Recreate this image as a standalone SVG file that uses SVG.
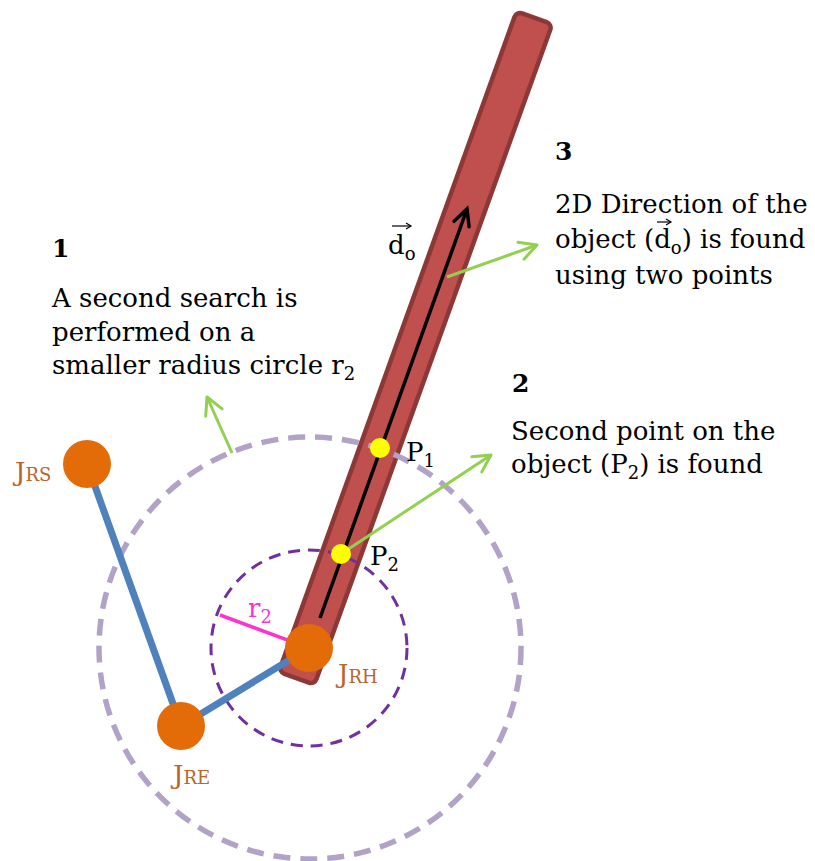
<svg xmlns="http://www.w3.org/2000/svg" width="815" height="861" viewBox="0 0 815 861">
  <style>
    .txt { font-family: "DejaVu Serif", "Liberation Serif", serif; font-size: 26px; fill: #000; }
    .num { font-family: "DejaVu Serif", "Liberation Serif", serif; font-size: 25px; font-weight: bold; fill: #000; }
    .jl { font-family: "DejaVu Serif", "Liberation Serif", serif; font-size: 26px; fill: #b9652b; }
    .jsub { font-size: 18px; }
    .sub { font-size: 18px; }
    .green { stroke: #92d050; stroke-width: 3; fill: none; marker-end: url(#ga); }
    .blue { stroke: #4f81bd; stroke-width: 7; }
    .joint { fill: #e36c09; }
    .pt { fill: #ffff00; }
  </style>
  <defs>
    <marker id="ga" markerUnits="userSpaceOnUse" viewBox="-20 -12 24 24" refX="0" refY="0" markerWidth="24" markerHeight="24" orient="auto">
      <path d="M-17,-9 L0,0 L-17,9" fill="none" stroke="#92d050" stroke-width="3" stroke-linejoin="round" stroke-linecap="round"/>
    </marker>
    <marker id="ba" markerUnits="userSpaceOnUse" viewBox="-20 -12 24 24" refX="0" refY="0" markerWidth="24" markerHeight="24" orient="auto">
      <path d="M-16,-8 L0,0 L-16,8" fill="none" stroke="#000" stroke-width="3.5" stroke-linejoin="miter" stroke-linecap="round"/>
    </marker>
    <marker id="sa" markerUnits="userSpaceOnUse" viewBox="-8 -5 10 10" refX="0" refY="0" markerWidth="10" markerHeight="10" orient="auto">
      <path d="M-5,-3 L0,0 L-5,3" fill="none" stroke="#000" stroke-width="1.2"/>
    </marker>
  </defs>

  <g id="rod">
    <rect x="396.5" y="-3" width="38" height="702" rx="6" ry="6" fill="#c0504d" stroke="#8c3836" stroke-width="4.5" transform="rotate(19.8 415.5 348)"/>
  </g>

  <g id="search-circles">
    <circle id="circle-large" cx="310" cy="648" r="211" fill="none" stroke="#b3a2c7" stroke-width="5.5" stroke-dasharray="17 10"/>
    <circle id="circle-small" cx="309" cy="648" r="98" fill="none" stroke="#7030a0" stroke-width="3" stroke-dasharray="12 8"/>
  </g>

  <g id="connectors">
    <line id="radius-r2" x1="220" y1="615" x2="309" y2="648" stroke="#ff33cc" stroke-width="3.5"/>
    <line id="arm-upper" class="blue" x1="87" y1="464" x2="181" y2="726"/>
    <line id="arm-lower" class="blue" x1="181" y1="726" x2="309" y2="648"/>
    <line id="direction-arrow" x1="320" y1="618" x2="467" y2="209" stroke="#000" stroke-width="3.5" marker-end="url(#ba)"/>
    <line id="callout-1" class="green" x1="232" y1="453" x2="207" y2="397"/>
    <line id="callout-2" class="green" x1="341" y1="554" x2="491" y2="455"/>
    <line id="callout-3" class="green" x1="447" y1="277" x2="537" y2="245"/>
  </g>

  <g id="P1">
    <ellipse class="pt" cx="380" cy="448" rx="10" ry="10"/>
    <text class="txt" x="406" y="461">P<tspan class="sub" dy="6">1</tspan></text>
  </g>
  <g id="P2">
    <ellipse class="pt" cx="341" cy="554" rx="10" ry="10"/>
    <text class="txt" x="370" y="565">P<tspan class="sub" dy="6">2</tspan></text>
  </g>

  <g id="J_RS">
    <circle class="joint" cx="87" cy="464" r="24"/>
    <text class="jl" x="15" y="481">J<tspan class="jsub">RS</tspan></text>
  </g>
  <g id="J_RE">
    <circle class="joint" cx="181" cy="726" r="24"/>
    <text class="jl" x="173" y="784">J<tspan class="jsub">RE</tspan></text>
  </g>
  <g id="J_RH">
    <circle class="joint" cx="309" cy="648" r="24"/>
    <text class="jl" x="338" y="683">J<tspan class="jsub">RH</tspan></text>
  </g>

  <g id="label-r2">
    <text class="txt" x="248" y="617" style="fill:#ff33cc">r<tspan class="sub" dy="6">2</tspan></text>
  </g>

  <g id="label-do">
    <text class="txt" x="388" y="254">d<tspan class="sub" dy="6">o</tspan></text>
    <line x1="392" y1="226" x2="411" y2="226" stroke="#000" stroke-width="1.2" marker-end="url(#sa)"/>
  </g>

  <g id="note-1">
    <text class="num" x="52" y="257">1</text>
    <text class="txt" x="52" y="307">A second search is</text>
    <text class="txt" x="52" y="341">performed on a</text>
    <text class="txt" x="52" y="374">smaller radius circle r<tspan class="sub" dy="6">2</tspan></text>
  </g>

  <g id="note-2">
    <text class="num" x="512" y="392">2</text>
    <text class="txt" x="511" y="440">Second point on the</text>
    <text class="txt" x="511" y="473">object (P<tspan class="sub" dy="6">2</tspan><tspan dy="-6">) is found</tspan></text>
  </g>

  <g id="note-3">
    <text class="num" x="555" y="160">3</text>
    <text class="txt" x="555" y="213">2D Direction of the</text>
    <text class="txt" x="555" y="248">object (d<tspan class="sub" dy="6">o</tspan><tspan dy="-6">) is found</tspan></text>
    <text class="txt" x="555" y="284">using two points</text>
    <line x1="657" y1="222" x2="671" y2="222" stroke="#000" stroke-width="1.2" marker-end="url(#sa)"/>
  </g>
</svg>
